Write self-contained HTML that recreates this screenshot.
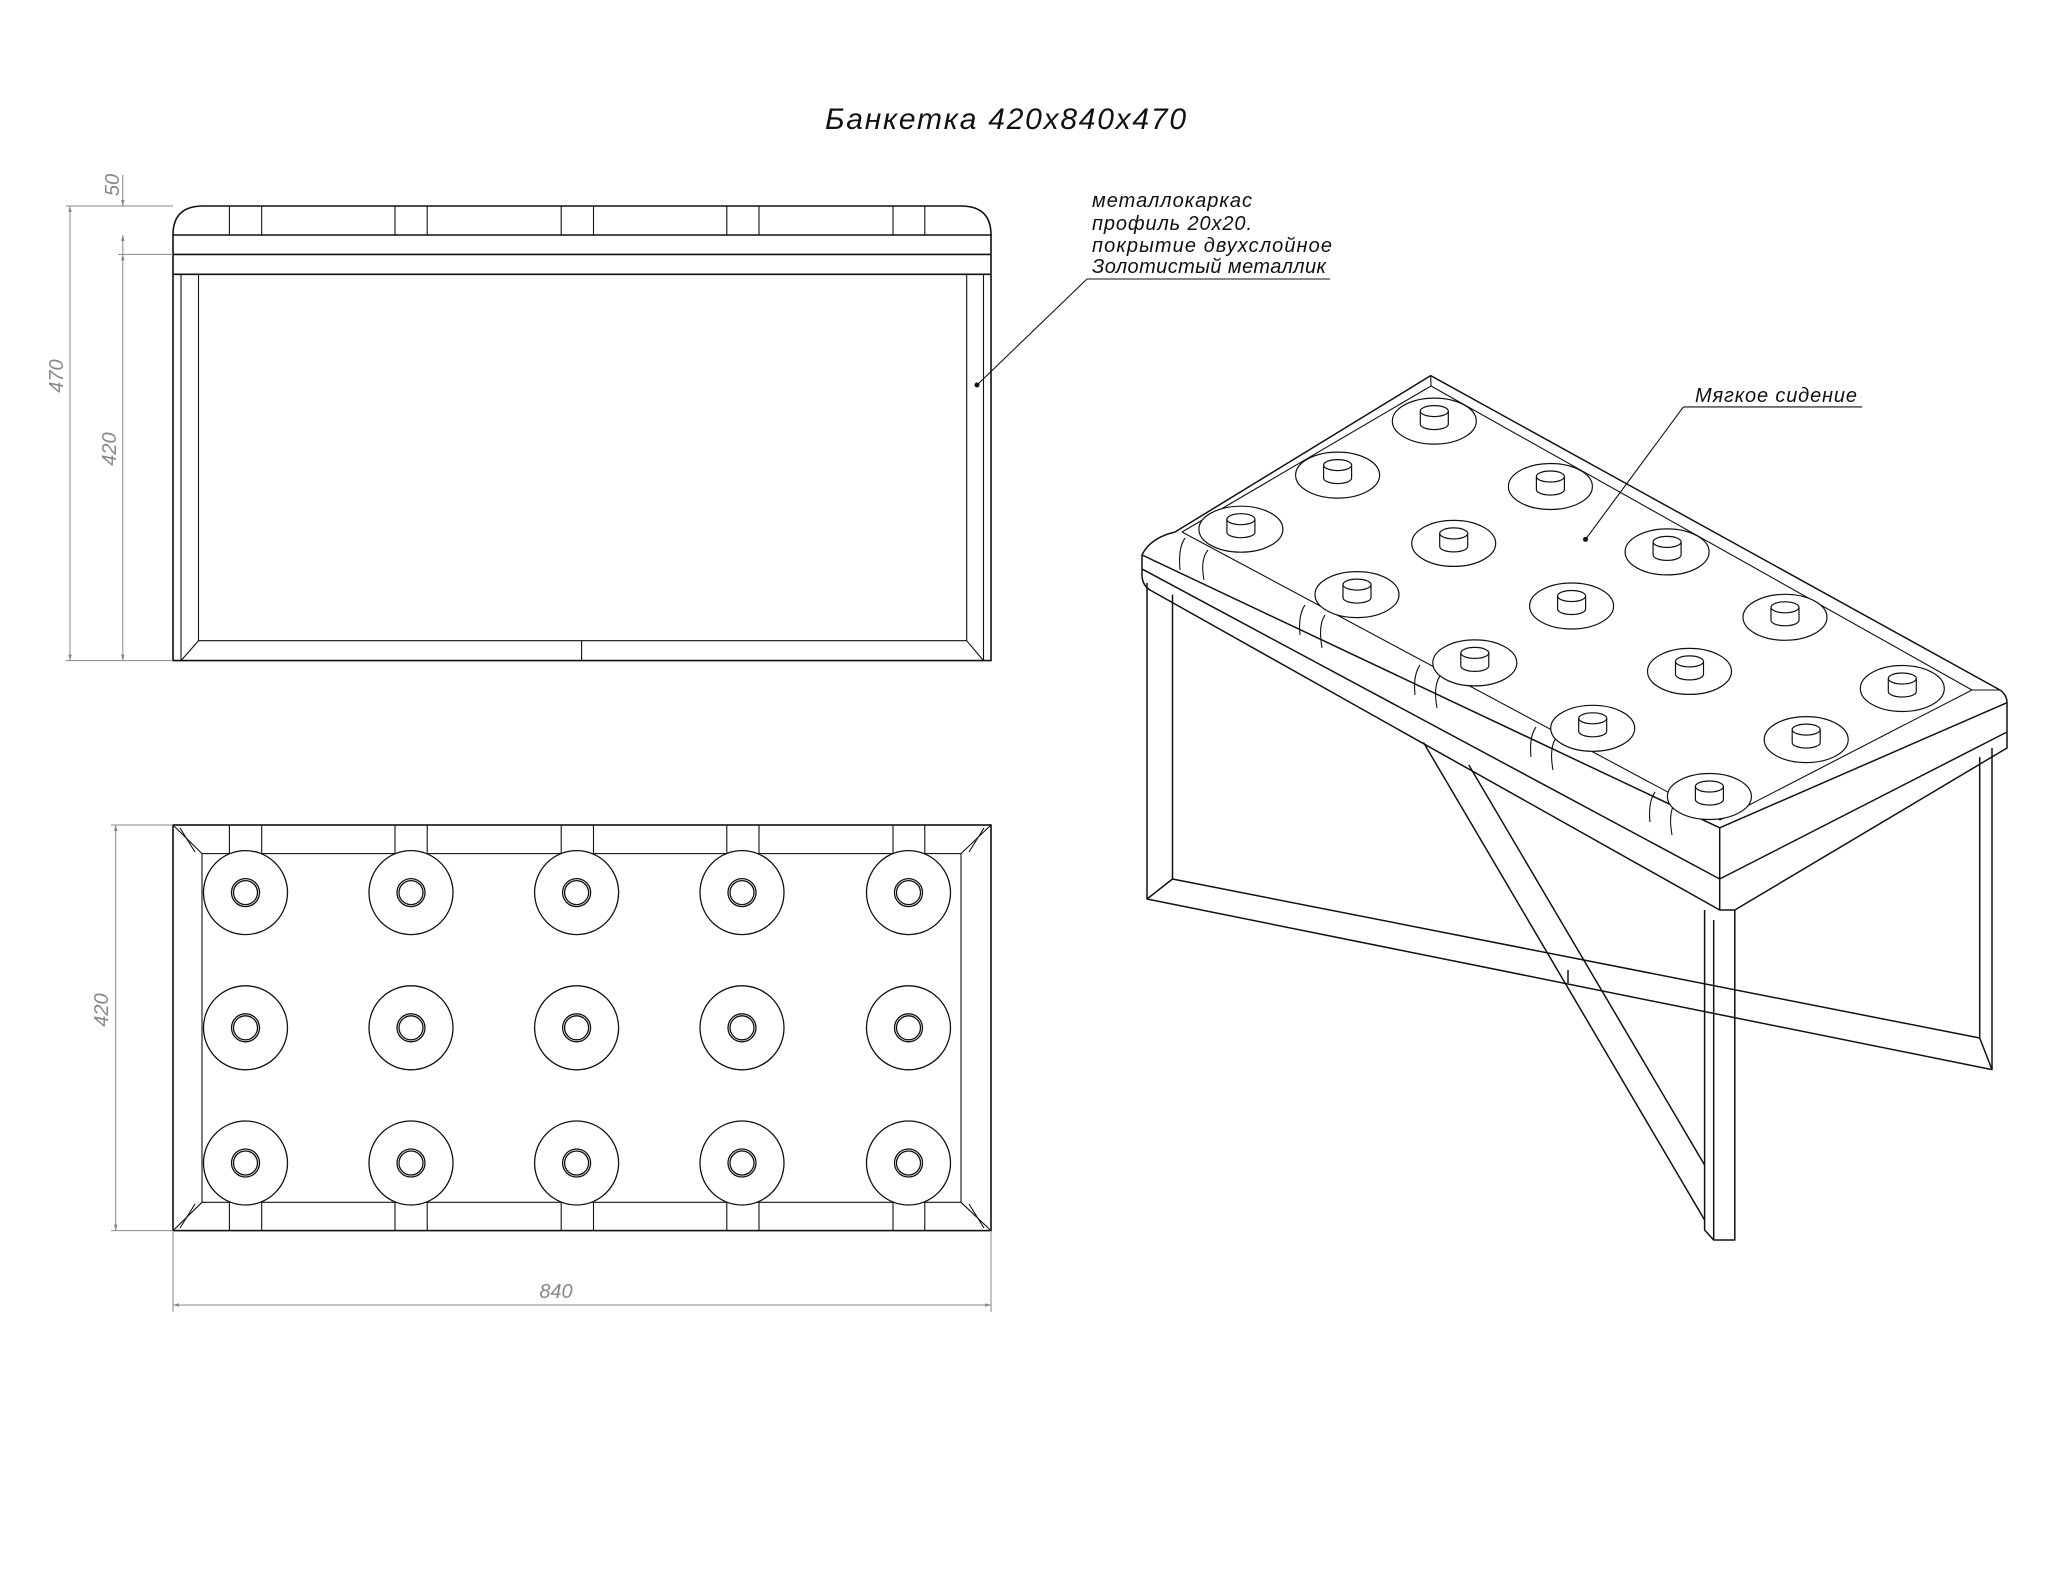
<!DOCTYPE html>
<html><head><meta charset="utf-8"><style>html,body{margin:0;padding:0;background:#fff}svg{display:block}</style></head>
<body>
<svg width="2048" height="1582" viewBox="0 0 2048 1582" xmlns="http://www.w3.org/2000/svg" font-family="Liberation Sans, sans-serif" font-style="italic">
<defs>
<marker id="ar" viewBox="0 0 10 10" refX="10" refY="5" markerWidth="14" markerHeight="6" orient="auto-start-reverse" markerUnits="userSpaceOnUse"><path d="M0,2 L10,5 L0,8 z" fill="#888"/></marker>
<g id="b">
<ellipse cx="0" cy="0" rx="42" ry="23"/>
<path d="M-14,-10 V3 A14,5.5 0 0 0 14,3 V-10"/>
<ellipse cx="0" cy="-10" rx="14" ry="5.5"/>
</g>
</defs>
<rect width="2048" height="1582" fill="#fff"/>
<text x="825" y="129" font-size="30" textLength="361" fill="#111">Банкетка 420x840x470</text>

<!-- FRONT VIEW -->
<g fill="none" stroke="#111" stroke-width="1.6">
<path d="M173,235 Q173,206 203,206 L961,206 Q991,206 991,235 Z"/>
<line x1="173" y1="254.4" x2="991" y2="254.4"/>
<path d="M173,235 V660.6 H991 V235"/>
<line x1="173" y1="274.3" x2="991" y2="274.3"/>
<g stroke-width="1.1">
<line x1="229.4" y1="206" x2="229.4" y2="235"/><line x1="261.7" y1="206" x2="261.7" y2="235"/>
<line x1="395" y1="206" x2="395" y2="235"/><line x1="427.2" y1="206" x2="427.2" y2="235"/>
<line x1="561.2" y1="206" x2="561.2" y2="235"/><line x1="593.5" y1="206" x2="593.5" y2="235"/>
<line x1="726.8" y1="206" x2="726.8" y2="235"/><line x1="759" y1="206" x2="759" y2="235"/>
<line x1="893" y1="206" x2="893" y2="235"/><line x1="924.8" y1="206" x2="924.8" y2="235"/>
<line x1="181" y1="274.3" x2="181" y2="660.6"/><line x1="198.5" y1="274.3" x2="198.5" y2="640.7"/>
<line x1="966.7" y1="274.3" x2="966.7" y2="640.7"/><line x1="983.5" y1="274.3" x2="983.5" y2="660.6"/>
<line x1="198.5" y1="640.7" x2="966.7" y2="640.7"/>
<line x1="181" y1="660.6" x2="198.5" y2="640.7"/><line x1="983.5" y1="660.6" x2="966.7" y2="640.7"/>
<line x1="581.6" y1="640.7" x2="581.6" y2="660.6"/>
</g>
</g>
<g stroke="#888" stroke-width="1" fill="none">
<line x1="66" y1="206" x2="173" y2="206"/><line x1="66" y1="660.6" x2="173" y2="660.6"/>
<line x1="118" y1="254.4" x2="173" y2="254.4"/>
<line x1="70" y1="206" x2="70" y2="660.6" marker-start="url(#ar)" marker-end="url(#ar)"/>
<line x1="122.8" y1="254.4" x2="122.8" y2="660.6" marker-start="url(#ar)" marker-end="url(#ar)"/>
<line x1="122.8" y1="175" x2="122.8" y2="206" marker-end="url(#ar)"/>
<line x1="122.8" y1="254.4" x2="122.8" y2="235" marker-end="url(#ar)"/>
</g>
<g fill="#888" font-size="20">
<text transform="translate(63,376) rotate(-90)" text-anchor="middle">470</text>
<text transform="translate(116,449) rotate(-90)" text-anchor="middle">420</text>
<text transform="translate(119,185) rotate(-90)" text-anchor="middle">50</text>
</g>
<g stroke="#111" stroke-width="1.1" fill="none">
<line x1="977" y1="385" x2="1087" y2="279"/><line x1="1087" y1="279" x2="1330" y2="279"/>
</g>
<circle cx="977" cy="385" r="2.5" fill="#111"/>
<g font-size="20" fill="#111">
<text x="1092" y="207" textLength="160">металлокаркас</text>
<text x="1092" y="230" textLength="160">профиль 20х20.</text>
<text x="1092" y="252" textLength="240">покрытие двухслойное</text>
<text x="1092" y="273" textLength="234">Золотистый металлик</text>
</g>

<!-- TOP VIEW -->
<g fill="none" stroke="#111" stroke-width="1.6">
<rect x="173" y="825" width="818" height="405.6"/>
<g stroke-width="1.1">
<rect x="202" y="853.6" width="759" height="348.7"/>
<line x1="173" y1="825" x2="202" y2="853.6"/><line x1="991" y1="825" x2="961" y2="853.6"/>
<line x1="173" y1="1230.6" x2="202" y2="1202.3"/><line x1="991" y1="1230.6" x2="961" y2="1202.3"/>
<line x1="180" y1="828" x2="195" y2="852"/><line x1="984" y1="828" x2="969" y2="852"/>
<line x1="180" y1="1228" x2="195" y2="1204"/><line x1="984" y1="1228" x2="969" y2="1204"/>
<path d="M229.4,825V853.6M261.7,825V853.6M395,825V853.6M427.2,825V853.6M561.2,825V853.6M593.5,825V853.6M726.8,825V853.6M759,825V853.6M893,825V853.6M924.8,825V853.6"/>
<path d="M229.4,1202.3V1230.6M261.7,1202.3V1230.6M395,1202.3V1230.6M427.2,1202.3V1230.6M561.2,1202.3V1230.6M593.5,1202.3V1230.6M726.8,1202.3V1230.6M759,1202.3V1230.6M893,1202.3V1230.6M924.8,1202.3V1230.6"/>
</g>
</g>
<g fill="#fff" stroke="#111" stroke-width="1.3">
<g id="r1">
<circle cx="245.5" cy="892.6" r="42"/><circle cx="245.5" cy="892.6" r="14"/><circle cx="245.5" cy="892.6" r="12"/>
<circle cx="411" cy="892.6" r="42"/><circle cx="411" cy="892.6" r="14"/><circle cx="411" cy="892.6" r="12"/>
<circle cx="576.6" cy="892.6" r="42"/><circle cx="576.6" cy="892.6" r="14"/><circle cx="576.6" cy="892.6" r="12"/>
<circle cx="742" cy="892.6" r="42"/><circle cx="742" cy="892.6" r="14"/><circle cx="742" cy="892.6" r="12"/>
<circle cx="908.5" cy="892.6" r="42"/><circle cx="908.5" cy="892.6" r="14"/><circle cx="908.5" cy="892.6" r="12"/>
</g>
<use href="#r1" y="135.2"/>
<use href="#r1" y="270.4"/>
</g>
<g stroke="#888" stroke-width="1" fill="none">
<line x1="111" y1="825" x2="173" y2="825"/><line x1="111" y1="1230.6" x2="173" y2="1230.6"/>
<line x1="115.7" y1="825" x2="115.7" y2="1230.6" marker-start="url(#ar)" marker-end="url(#ar)"/>
<line x1="173" y1="1232" x2="173" y2="1312"/><line x1="991" y1="1232" x2="991" y2="1312"/>
<line x1="173" y1="1305" x2="991" y2="1305" marker-start="url(#ar)" marker-end="url(#ar)"/>
</g>
<g fill="#888" font-size="20">
<text transform="translate(108,1010) rotate(-90)" text-anchor="middle">420</text>
<text x="556" y="1298" text-anchor="middle">840</text>
</g>

<!-- ISO VIEW -->
<g fill="none" stroke="#111" stroke-width="1.5" stroke-linejoin="round">
<path d="M1147,583 L1147,899 L1992,1069.6 L1992,748"/>
<path d="M1172.5,594.6 L1172.5,879 L1979.7,1038 L1979.7,757"/>
<line x1="1147" y1="899" x2="1172.5" y2="879"/>
<line x1="1992" y1="1069.6" x2="1979.7" y2="1038"/>
<path d="M1704.6,910 L1704.6,1230 L1713.7,1240 L1734.8,1240 L1734.8,910"/>
<line x1="1713.7" y1="1240" x2="1713.7" y2="920"/>
<path d="M1423.5,742.5 L1704.6,1220"/>
<path d="M1468.8,765 L1704.6,1165"/>
<line x1="1568" y1="970" x2="1568" y2="983"/>
<path d="M1430.7,375.6 L2000,690 Q2007,695 2007,702.7 L2007,748 L1734.8,910 L1719.7,910 L1150,590 Q1142,585 1142,575 L1142,555 Q1150,538 1175,532 Z"/>
<line x1="1142" y1="569" x2="1719.7" y2="879"/>
<line x1="1719.7" y1="879" x2="2007" y2="732"/>
<line x1="1142" y1="555" x2="1719.7" y2="827.8"/>
<line x1="1719.7" y1="827.8" x2="2007" y2="702.7"/>
<line x1="1719.7" y1="827.8" x2="1719.7" y2="910"/>
<g stroke-width="1.1">
<path d="M1182,532 L1431,386 L1972,690 L1720,820"/>
<line x1="1182" y1="532" x2="1720" y2="820"/>
<line x1="1430.7" y1="375.6" x2="1431" y2="386"/>
<line x1="2000" y1="690" x2="1972" y2="690"/>
<path d="M1185,538 Q1178,548 1180,570"/><path d="M1208,550 Q1200,560 1204,580"/>
<path d="M1305,605 Q1298,615 1300,635"/><path d="M1325,615 Q1318,625 1322,648"/>
<path d="M1420,665 Q1413,675 1415,695"/><path d="M1440,676 Q1433,686 1437,708"/>
<path d="M1536,727 Q1529,737 1531,757"/><path d="M1556,738 Q1549,748 1553,770"/>
<path d="M1655,792 Q1648,802 1650,822"/><path d="M1675,803 Q1668,813 1672,835"/>
</g>
</g>
<g stroke="#111" stroke-width="1.2" fill="#fff">
<use href="#b" x="1434.3" y="421.1"/><use href="#b" x="1550.4" y="486.5"/><use href="#b" x="1667.1" y="551.9"/><use href="#b" x="1785" y="617.3"/><use href="#b" x="1902.3" y="688.5"/>
<use href="#b" x="1337.6" y="475.1"/><use href="#b" x="1453.7" y="543.4"/><use href="#b" x="1571.6" y="606"/><use href="#b" x="1689.5" y="671.4"/><use href="#b" x="1806.2" y="739.6"/>
<use href="#b" x="1240.9" y="529.2"/><use href="#b" x="1357" y="594.6"/><use href="#b" x="1474.8" y="662.9"/><use href="#b" x="1592.7" y="728.3"/><use href="#b" x="1709.4" y="796.5"/>
</g>
<g stroke="#111" stroke-width="1.1" fill="none">
<line x1="1585.5" y1="539.4" x2="1683.4" y2="406.9"/><line x1="1683.4" y1="406.9" x2="1862" y2="406.9"/>
</g>
<circle cx="1585.5" cy="539.4" r="2.5" fill="#111"/>
<text x="1695" y="402" font-size="20" fill="#111" textLength="162">Мягкое сидение</text>
</svg>
</body></html>
